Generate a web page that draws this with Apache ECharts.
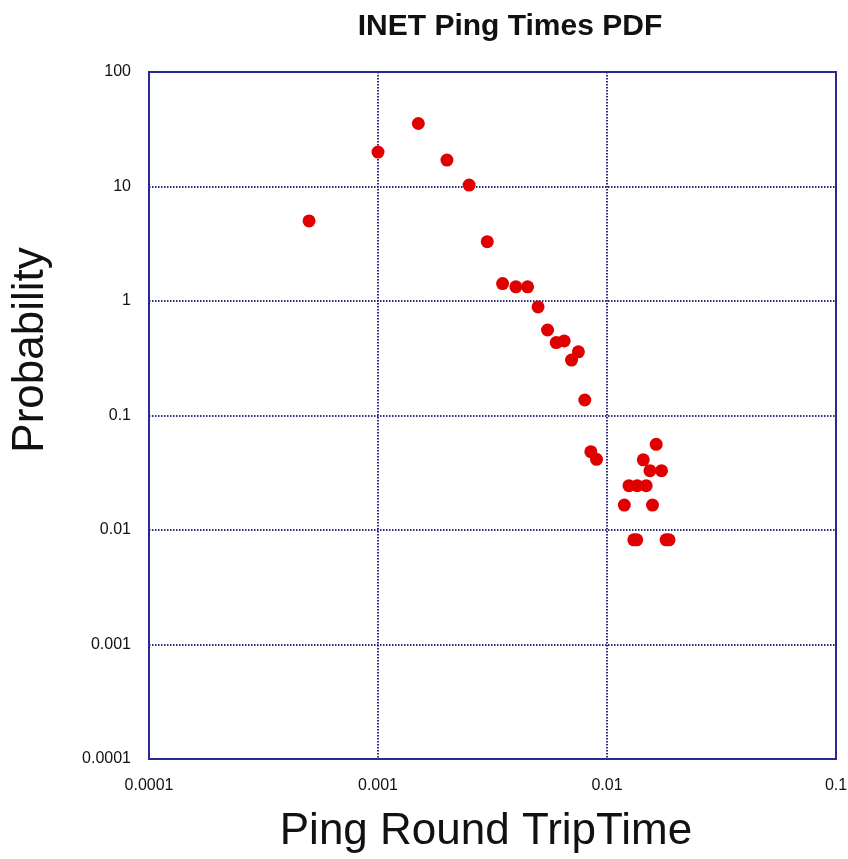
<!DOCTYPE html>
<html>
<head>
<meta charset="utf-8">
<title>INET Ping Times PDF</title>
<script src="https://cdn.jsdelivr.net/npm/echarts@6/dist/echarts.min.js"></script>
<style>
  html, body { margin: 0; padding: 0; background: #fff; }
  #chart { width: 848px; height: 859px; }
</style>
</head>
<body>
<div id="chart"></div>
<script>
// Round-trip times (seconds) and probability density at each bin
const rttSeconds = [
  0.0005, 0.001, 0.0015, 0.002, 0.0025, 0.003, 0.0035, 0.004, 0.0045, 0.005,
  0.0055, 0.006, 0.0065, 0.007, 0.0075, 0.008, 0.0085, 0.009,
  0.0119, 0.01247, 0.01309, 0.01349, 0.01355, 0.0144, 0.01483, 0.0154,
  0.0158, 0.0164, 0.0173, 0.01811, 0.01866
];
const probability = [
  5.0, 20, 35.5, 17.0, 10.3, 3.3, 1.42, 1.33, 1.33, 0.887,
  0.558, 0.433, 0.448, 0.305, 0.36, 0.1366, 0.0483, 0.0414,
  0.0165, 0.0244, 0.0082, 0.0082, 0.0244, 0.041, 0.0244, 0.033,
  0.0165, 0.056, 0.033, 0.0082, 0.0082
];

const xTickLabels = ['0.0001', '0.001', '0.01', '0.1'];
const yTickLabels = ['0.0001', '0.001', '0.01', '0.1', '1', '10', '100'];
const minExponent = -4;

const chartTitle = 'INET Ping Times PDF';
const xAxisTitle = 'Ping Round TripTime';
const yAxisTitle = 'Probability';

function labelFor(list) {
  return function (v) {
    const idx = Math.round(Math.log10(v)) - minExponent;
    return list[idx] !== undefined ? list[idx] : '';
  };
}

const font = "'Liberation Sans', Arial, sans-serif";
const navy = '#2a2a96';
const gridDot = {
  show: true,
  showMinLine: false,
  showMaxLine: false,
  lineStyle: { color: '#2c2c7c', width: 2, type: [1.5, 1.5] }
};

const points = rttSeconds.map((x, i) => [x, probability[i]]);

const chart = echarts.init(document.getElementById('chart'), null, { renderer: 'canvas' });
chart.setOption({
  animation: false,
  backgroundColor: '#ffffff',
  grid: {
    left: 149, top: 72, right: 12, bottom: 100,
    outerBoundsMode: 'none', containLabel: false,
    show: true, borderColor: navy, borderWidth: 2, backgroundColor: 'transparent'
  },
  xAxis: {
    type: 'log', logBase: 10, min: 0.0001, max: 0.1,
    axisLine: { show: true, lineStyle: { color: navy, width: 2 } },
    axisTick: { show: false },
    minorTick: { show: false },
    splitLine: gridDot,
    axisLabel: {
      formatter: labelFor(xTickLabels), fontSize: 16, color: '#111',
      fontFamily: font, margin: 19, showMinLabel: true, showMaxLabel: true,
      hideOverlap: false
    }
  },
  yAxis: {
    type: 'log', logBase: 10, min: 0.0001, max: 100,
    axisLine: { show: true, lineStyle: { color: navy, width: 2 } },
    axisTick: { show: false },
    minorTick: { show: false },
    splitLine: gridDot,
    axisLabel: {
      formatter: labelFor(yTickLabels), fontSize: 16, color: '#111',
      fontFamily: font, margin: 18, showMinLabel: true, showMaxLabel: true
    }
  },
  series: [{
    type: 'scatter',
    data: points,
    symbol: 'circle',
    symbolSize: 13,
    itemStyle: { color: '#e00000', opacity: 1 },
    silent: true
  }],
  graphic: [
    {
      type: 'text',
      x: 510, y: 27,
      style: {
        text: chartTitle, font: "bold 30px 'Liberation Sans', Arial, sans-serif",
        fill: '#111', textAlign: 'center', textVerticalAlign: 'middle'
      }
    },
    {
      type: 'text',
      x: 486, y: 832,
      style: {
        text: xAxisTitle, font: "44px 'Liberation Sans', Arial, sans-serif",
        fill: '#111', textAlign: 'center', textVerticalAlign: 'middle'
      }
    },
    {
      type: 'text',
      x: 31, y: 350, rotation: Math.PI / 2,
      style: {
        text: yAxisTitle, font: "44px 'Liberation Sans', Arial, sans-serif",
        fill: '#111', textAlign: 'center', textVerticalAlign: 'middle'
      }
    }
  ]
});
</script>
</body>
</html>
